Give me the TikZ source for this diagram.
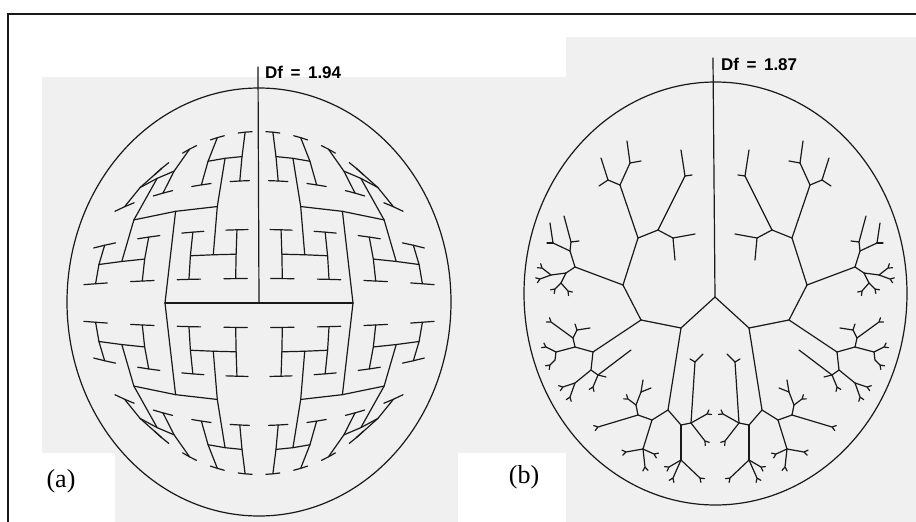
\documentclass[tikz,border=0pt]{standalone}
\usepackage{fontspec}
\setmainfont{Liberation Serif}
\setsansfont{Liberation Sans}
\usetikzlibrary{calc}
\definecolor{bgg}{RGB}{240,240,240}
\definecolor{ink}{RGB}{25,25,25}
\tikzset{
  ln/.style={line width=1.2pt, draw=ink, line cap=round, line join=round},
  dflabel/.style={anchor=base west, inner sep=0pt, font=\sffamily\bfseries\fontsize{17}{17}\selectfont},
  panlabel/.style={inner sep=0pt, font=\fontsize{26}{26}\selectfont}
}
% H-tree recursion: x y half-length dir(0 horiz,1 vert) depth
\newcommand\HT[5]{%
  \ifnum#5>0\relax
  \begingroup
  \ifnum#4=0\relax
    \pgfmathsetmacro\xa{#1-#3}\pgfmathsetmacro\ya{#2}%
    \pgfmathsetmacro\xb{#1+#3}\pgfmathsetmacro\yb{#2}%
    \pgfmathsetmacro\nh{#3}\def\nd{1}%
  \else
    \pgfmathsetmacro\xa{#1}\pgfmathsetmacro\ya{#2-#3}%
    \pgfmathsetmacro\xb{#1}\pgfmathsetmacro\yb{#2+#3}%
    \pgfmathsetmacro\nh{#3/2}\def\nd{0}%
  \fi
  \draw[ln] ({hx(\xa,\ya)},{hy(\xa,\ya)}) -- ({hx(#1,#2)},{hy(#1,#2)}) -- ({hx(\xb,\yb)},{hy(\xb,\yb)});
  \pgfmathtruncatemacro\nn{#5-1}%
  \edef\next{\noexpand\HT{\xa}{\ya}{\nh}{\nd}{\nn}\noexpand\HT{\xb}{\yb}{\nh}{\nd}{\nn}}%
  \next
  \endgroup
  \fi}
\newcommand\sg[2]{\draw[ln] (#1) -- (#2);}
\newcommand\tp[2]{\draw[ln] (#1) -- (#2) -- ($(#2)!4.5pt!145:(#1)$) (#2) -- ($(#2)!4.5pt!-145:(#1)$);}
\newcommand\halfB{%
\sg{715,297}{681,328}
\sg{681,328}{641,320}
\sg{681,328}{668,410}
\sg{641,320}{623,285}
\sg{641,320}{593,352}
\sg{623,285}{638,238}
\sg{623,285}{575,267}
\sg{638,238}{620,185}
\sg{638,238}{658,230}
\sg{620,185}{608,180}
\sg{608,180}{601,158}
\sg{608,180}{599,186}
\sg{620,185}{630,163}
\sg{630,163}{627,141}
\sg{630,163}{641,161}
\sg{658,230}{685,176}
\sg{685,176}{681,150}
\sg{685,176}{692,175}
\sg{658,230}{673,238}
\sg{673,238}{695,234}
\sg{673,238}{675,260}
\sg{575,267}{570,251}
\sg{570,251}{571,242}
\sg{571,242}{564,216}
\sg{571,242}{579,241}
\sg{570,251}{553,243}
\sg{553,243}{550,223}
\sg{553,243}{547,243}
\sg{575,267}{566,273}
\sg{566,273}{551,275}
\tp{551,275}{542,268}
\tp{551,275}{540,279}
\sg{566,273}{561,283}
\tp{561,283}{555,289}
\tp{561,283}{568,291}
\sg{593,352}{575,347}
\sg{575,347}{573,338}
\tp{573,338}{551,322}
\sg{573,338}{577,330}
\sg{577,330}{575,324}
\sg{577,330}{590,328}
\sg{575,347}{556,352}
\tp{556,352}{546,347}
\sg{556,352}{555,360}
\tp{555,360}{550,365}
\sg{593,352}{591,370}
\sg{591,370}{575,383}
\tp{575,383}{563,387}
\tp{575,383}{570,397}
\sg{591,370}{598,375}
\sg{598,375}{631,350}
\sg{598,375}{606,377}
\tp{598,375}{593,387}
\sg{668,410}{652,420}
\sg{652,420}{638,415}
\sg{638,415}{636,405}
\sg{636,405}{641,392}
\sg{641,392}{643,380}
\sg{641,392}{651,388}
\tp{636,405}{628,399}
\tp{638,415}{598,427}
\sg{652,420}{643,449}
\tp{643,449}{626,452}
\tp{643,449}{645,467}
\tp{643,449}{654,454}
\sg{668,410}{681,425}
\sg{681,425}{691,423}
\sg{691,423}{695,362}
\sg{695,362}{690,359}
\sg{695,362}{703,354}
\tp{691,423}{707,414}
\tp{691,423}{705,441}
\sg{681,425}{681,460}
\tp{681,460}{669,467}
\tp{681,460}{673,478}
\tp{681,460}{700,478}
}
\begin{document}
\begin{tikzpicture}[x=1pt,y=-1pt,
  declare function={hx(\x,\y)=259+188*(\x)*sqrt(1-0.85*(\y)*(\y));
                    hy(\x,\y)=303+196*(\y)*sqrt(1-0.5*(\x)*(\x));}]
\useasboundingbox (0,0) rectangle (916,522);
\fill[white] (0,0) rectangle (916,522);
% scanned paper background
\fill[bgg] (42,77) rectangle (566,453);
\fill[bgg] (115,453) rectangle (458,522);
\fill[bgg] (566,37) rectangle (916,522);
% frame
\draw[line width=2pt, draw=ink] (916,14) -- (8,14) -- (8,522);
% ---------- panel (a) ----------
\draw[ln] (259,302) ellipse [x radius=192, y radius=214];
\draw[ln] (258,67) -- ({hx(0,0)},{hy(0,0)});
\HT{0}{0}{0.5}{0}{7}
\node[dflabel] (dfa) at (265,78) {Df\hspace{7.5pt}=\hspace{7.5pt}1.94};
\node[panlabel] (la) at (61,481) {(a)};
% ---------- panel (b) ----------
\draw[ln] (715.5,293.5) ellipse [x radius=191.5, y radius=211.5];
\draw[ln] (713,58) -- (715,297);
\halfB
\begin{scope}[shift={(1430,0)},xscale=-1]
\halfB
\end{scope}
\node[dflabel] (dfb) at (721,70) {Df\hspace{7.5pt}=\hspace{7.5pt}1.87};
\node[panlabel] (lb) at (524,477) {(b)};
\end{tikzpicture}
\end{document}
